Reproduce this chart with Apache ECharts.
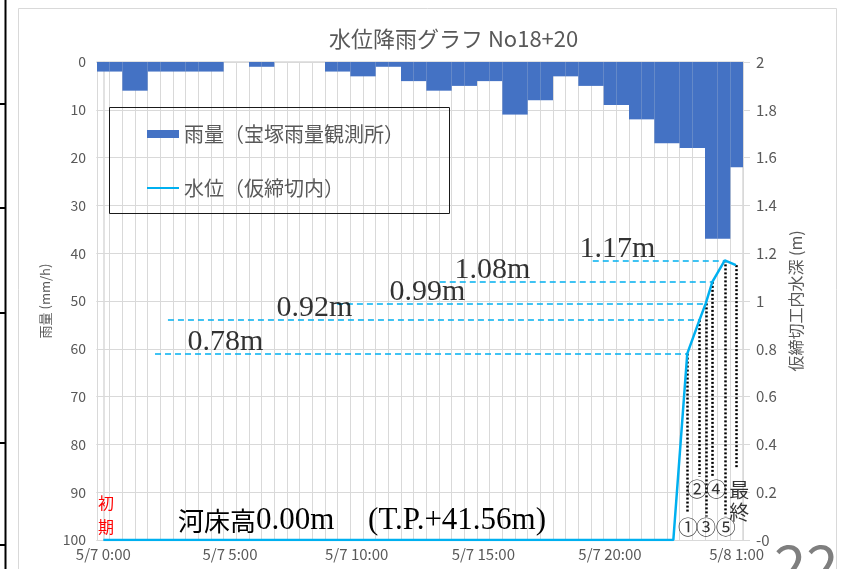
<!DOCTYPE html>
<html>
<head>
<meta charset="utf-8">
<script src="https://cdn.jsdelivr.net/npm/echarts@6/dist/echarts.min.js"></script>
<style>
  html, body { margin: 0; padding: 0; background: #fff; }
  #chart { width: 841px; height: 569px; }
</style>
</head>
<body>
<div id="chart"></div>
<script>
// Half-hour slots from 5/7 0:00 to 5/8 1:00 (category axis)
const slotLabels = [];
for (let i = 0; i <= 50; i++) {
  const h = i / 2;
  const day = h >= 24 ? 8 : 7;
  slotLabels.push('5/' + day + ' ' + Math.floor(h % 24) + ':' + (i % 2 ? '30' : '00'));
}

// Hourly rainfall (mm/h), shown over both half-hour slots of each hour
const rainSlots = [2, 2, 6, 6, 2, 2, 2, 2, 2, 2, 0, 0, 1, 1, 0, 0, 0, 0, 2, 2,
                   3, 3, 1, 1, 4, 4, 6, 6, 5, 5, 4, 4, 11, 11, 8, 8, 3, 3, 5, 5,
                   9, 9, 12, 12, 17, 17, 18, 18, 37, 37, 22];

// Water depth inside the cofferdam: hours since 5/7 0:00 and depth (m)
const levelHours  = [0, 22.5, 23.05, 23.53, 23.78, 24.04, 24.53, 24.97];
const levelDepths = [0, 0,    0.78,  0.92,  0.99,  1.08,  1.17,  1.15];

// Measurement marks ①–⑤ and the final reading (indexes into the level arrays)
const readingIdx    = [2, 3, 4, 5, 6, 7];

const RAIN_NAME  = '雨量（宝塚雨量観測所）';
const LEVEL_NAME = '水位（仮締切内）';

// ---- layout helpers (positions only) ----
const leaderStartHours = [2.04, 2.55, 9.22, 13.28, 19.32];   // dashed guide start per labelled reading
const valueLabelHours  = [3.34, 6.86, 11.32, 13.88, 18.82];  // left edge of the "x.xxm" labels
const dropEndDepths    = [0.113, 0.265, 0.098, 0.265, 0.098, 0.304];
const markTextPos = [
  { t: '①', h: 23.08, d: 0.054 }, { t: '②', h: 23.43, d: 0.213 },
  { t: '③', h: 23.79, d: 0.054 }, { t: '④', h: 24.19, d: 0.213 },
  { t: '⑤', h: 24.57, d: 0.054 }, { t: '最', h: 25.10, d: 0.209 },
  { t: '終', h: 25.10, d: 0.117 }
];

const FONT  = "'Noto Sans CJK JP', 'Noto Sans', sans-serif";
const SERIF = "'Liberation Serif', 'DejaVu Serif', 'Noto Sans CJK JP', serif";
const GRAY  = '#595959';
const GRIDC = '#d9d9d9';
const CYAN  = '#00B0F0';

const chart = echarts.init(document.getElementById('chart'), null, { renderer: 'canvas' });

// dashed horizontal guides and dotted drop lines
const markLines = [];
for (let k = 0; k < 5; k++) {
  const i = readingIdx[k];
  markLines.push([
    { coord: [leaderStartHours[k], levelDepths[i]], lineStyle: { color: CYAN, width: 1.5, type: [6, 4] } },
    { coord: [levelHours[i], levelDepths[i]] }
  ]);
}
readingIdx.forEach((i, k) => {
  markLines.push([
    { coord: [levelHours[i], levelDepths[i]], lineStyle: { color: '#000', width: 2.5, type: [2, 2] } },
    { coord: [levelHours[i], dropEndDepths[k]] }
  ]);
});

const option = {
  animation: false,
  backgroundColor: '#fff',
  title: {
    text: '水位降雨グラフ No18+20',
    left: 324, top: 23,
    textStyle: { fontFamily: FONT, fontSize: 22, fontWeight: 'normal', color: GRAY }
  },
  grid: { left: 97, right: 98, top: 62, bottom: 29 },
  legend: {
    orient: 'vertical', left: 146, top: 124, padding: 0,
    itemWidth: 32, itemHeight: 8, itemGap: 34,
    selectedMode: false,
    textStyle: { fontFamily: FONT, fontSize: 20, color: GRAY },
    data: [
      { name: RAIN_NAME, icon: 'rect' },
      { name: LEVEL_NAME, itemStyle: { opacity: 0 } }
    ]
  },
  xAxis: [
    {
      type: 'category', data: slotLabels, boundaryGap: true,
      axisLine: { lineStyle: { color: GRIDC, width: 1.5 } },
      axisTick: { show: false },
      axisLabel: { interval: 9, margin: 7, fontFamily: FONT, fontSize: 15, color: GRAY },
      splitLine: { show: true, interval: 0, lineStyle: { color: GRIDC, width: 1 } }
    },
    { type: 'value', min: -0.25, max: 25.25, show: false }
  ],
  yAxis: [
    {
      type: 'value', min: 0, max: 100, interval: 10, inverse: true,
      name: '雨量 (mm/h)', nameLocation: 'middle', nameGap: 42, nameRotate: 90,
      nameTextStyle: { fontFamily: FONT, fontSize: 13, color: GRAY },
      axisLine: { show: true, lineStyle: { color: GRIDC, width: 1.5 } },
      axisTick: { show: true, length: 7, lineStyle: { color: GRIDC } },
      axisLabel: { margin: 11, fontFamily: FONT, fontSize: 14, color: GRAY },
      splitLine: { show: true, lineStyle: { color: GRIDC, width: 1 } }
    },
    {
      type: 'value', min: 0, max: 2, interval: 0.2, position: 'right',
      name: '仮締切工内水深 (m)', nameLocation: 'middle', nameGap: 42, nameRotate: 90,
      nameTextStyle: { fontFamily: FONT, fontSize: 16, color: GRAY },
      axisLine: { show: true, lineStyle: { color: GRIDC, width: 1.5 } },
      axisTick: { show: true, length: 7, lineStyle: { color: GRIDC } },
      axisLabel: {
        margin: 13, fontFamily: FONT, fontSize: 15, color: GRAY,
        formatter: v => (v === 0 ? '-0' : String(+v.toFixed(1)))
      },
      splitLine: { show: false }
    }
  ],
  series: [
    {
      name: RAIN_NAME, type: 'bar', xAxisIndex: 0, yAxisIndex: 0,
      data: rainSlots, barCategoryGap: '0%', barGap: '0%',
      itemStyle: { color: '#4472C4' }, z: 2
    },
    {
      name: LEVEL_NAME, type: 'line', xAxisIndex: 1, yAxisIndex: 1,
      data: levelHours.map((h, i) => [h, levelDepths[i]]),
      symbol: 'none', lineStyle: { color: CYAN, width: 2.5 }, itemStyle: { color: CYAN },
      z: 6,
      markLine: { silent: true, symbol: ['none', 'none'], label: { show: false }, data: markLines }
    },
    {
      // depth values written beside each guide line
      name: 'depthLabels', type: 'scatter', xAxisIndex: 1, yAxisIndex: 1,
      symbolSize: 1, itemStyle: { color: 'transparent' }, silent: true, z: 7,
      data: readingIdx.slice(0, 5).map((i, k) => [valueLabelHours[k], levelDepths[i]]),
      label: {
        show: true, position: [0, 4], align: 'left', verticalAlign: 'bottom',
        formatter: p => p.value[1].toFixed(2) + 'm',
        fontFamily: SERIF, fontSize: 30, color: '#000'
      }
    },
    {
      // reading numbers under the drop lines
      name: 'readingMarks', type: 'scatter', xAxisIndex: 1, yAxisIndex: 1,
      symbolSize: 1, itemStyle: { color: 'transparent' }, silent: true, z: 7,
      data: markTextPos.map(m => ({ name: m.t, value: [m.h, m.d] })),
      label: {
        show: true, position: 'inside', formatter: '{b}',
        fontFamily: FONT, fontSize: 20, color: '#000'
      }
    }
  ],
  graphic: [
    // outer chart frame
    { type: 'rect', shape: { x: 18.5, y: 8.5, width: 818, height: 620 },
      style: { fill: 'none', stroke: GRIDC, lineWidth: 1 }, z: -1, silent: true },
    // sheet border on the left edge
    { type: 'line', shape: { x1: 5.5, y1: 0, x2: 5.5, y2: 569 }, style: { stroke: '#000', lineWidth: 2 }, silent: true },
    { type: 'line', shape: { x1: 0, y1: 104, x2: 6, y2: 104 }, style: { stroke: '#000', lineWidth: 2 }, silent: true },
    { type: 'line', shape: { x1: 0, y1: 208, x2: 6, y2: 208 }, style: { stroke: '#000', lineWidth: 2 }, silent: true },
    { type: 'line', shape: { x1: 0, y1: 313, x2: 6, y2: 313 }, style: { stroke: '#000', lineWidth: 2 }, silent: true },
    { type: 'line', shape: { x1: 0, y1: 443, x2: 6, y2: 443 }, style: { stroke: '#000', lineWidth: 2 }, silent: true },
    { type: 'line', shape: { x1: 0, y1: 545, x2: 6, y2: 545 }, style: { stroke: '#000', lineWidth: 2 }, silent: true },
    // legend frame
    { type: 'rect', shape: { x: 109.5, y: 107.5, width: 340, height: 106 },
      style: { fill: 'none', stroke: '#1a1a1a', lineWidth: 1 }, z: 10, silent: true },
    // initial-state note
    { type: 'text', x: 106, y: 503, z: 10, silent: true,
      style: { text: '初', fontFamily: FONT, fontSize: 16, fill: '#ff0000', align: 'center', verticalAlign: 'middle' } },
    { type: 'text', x: 106, y: 527, z: 10, silent: true,
      style: { text: '期', fontFamily: FONT, fontSize: 16, fill: '#ff0000', align: 'center', verticalAlign: 'middle' } },
    // river bed elevation
    { type: 'text', x: 178, y: 521, z: 10, silent: true,
      style: {
        text: '{k|河床高}{n|0.00m}{k|　}{n| (T.P.+41.56m)}',
        align: 'left', verticalAlign: 'middle',
        rich: {
          k: { fontFamily: FONT, fontSize: 26, fill: '#000', color: '#000' },
          n: { fontFamily: SERIF, fontSize: 31, fill: '#000', color: '#000' }
        }
      } },
    // page number at the corner
    { type: 'text', x: 774, y: 536, z: 10, silent: true,
      style: { text: '22', fontFamily: FONT, fontSize: 58, fill: '#7f7f7f', align: 'left', verticalAlign: 'top' } }
  ]
};

chart.setOption(option);
</script>
</body>
</html>
